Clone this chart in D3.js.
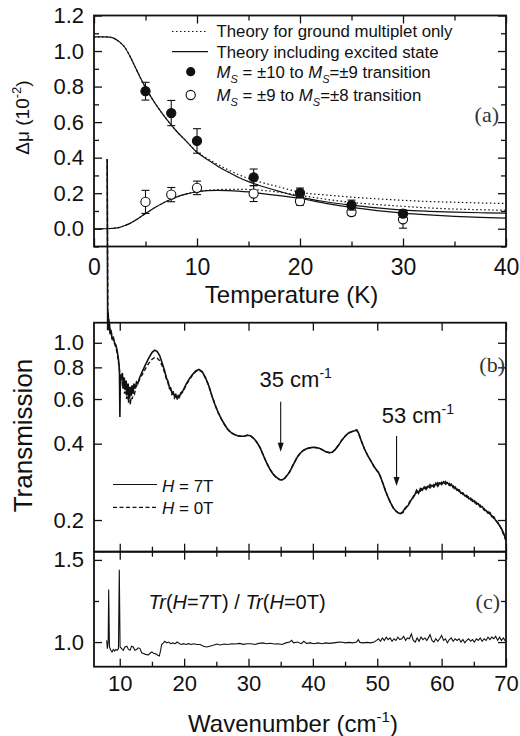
<!DOCTYPE html>
<html>
<head>
<meta charset="utf-8">
<script src="https://cdn.jsdelivr.net/npm/d3@7"></script>
<style>
  body { margin: 0; background: #fff; }
  svg { display: block; }
</style>
</head>
<body>
<svg id="chart" width="520" height="736"></svg>
<script>
// ---------- Panel (a): Δμ versus temperature ----------
const tempTicks = [0, 10, 20, 30, 40];
const dmuTicks = [0.0, 0.2, 0.4, 0.6, 0.8, 1.0, 1.2];
const tempK = [5, 7.5, 10, 15.5, 20, 25, 30];
const dmu10to9 = [0.774, 0.651, 0.494, 0.289, 0.201, 0.133, 0.085];
const err10to9 = [0.05, 0.071, 0.069, 0.047, 0.028, 0.028, 0.02];
const dmu9to8 = [0.151, 0.192, 0.23, 0.198, 0.155, 0.094, 0.053];
const err9to8 = [0.065, 0.04, 0.038, 0.045, 0.023, 0.02, 0.05];

// theory including the excited state (solid)
const theoryExcited10to9 = [[0,1.08],[1,1.08],[1.5,1.078],[2,1.07],[2.5,1.05],[3,1.02],[3.5,0.97],[4,0.91],[4.5,0.85],[5,0.795],[5.5,0.745],[6,0.70],[7,0.62],[8,0.55],[9,0.49],[10,0.43],[11,0.39],[12,0.352],[13,0.32],[14,0.29],[15,0.265],[16,0.245],[18,0.21],[20,0.178],[22.5,0.152],[25,0.133],[27.5,0.117],[30,0.105],[32.5,0.098],[35,0.093],[37.5,0.09],[40,0.088]];
const theoryExcited9to8 = [[0,0],[1,0],[1.5,0.001],[2,0.003],[2.5,0.008],[3,0.018],[3.5,0.03],[4,0.047],[4.5,0.066],[5,0.085],[5.5,0.104],[6,0.122],[6.5,0.138],[7,0.153],[7.5,0.166],[8,0.178],[9,0.196],[10,0.208],[11,0.214],[12,0.216],[13,0.215],[14,0.212],[15,0.207],[16,0.2],[18,0.186],[20,0.17],[22.5,0.143],[25,0.12],[27.5,0.102],[30,0.088],[32.5,0.078],[35,0.07],[37.5,0.064],[40,0.06]];
// theory for the ground multiplet only (dotted)
const theoryGround10to9 = [[0,1.08],[1,1.08],[1.5,1.078],[2,1.07],[2.5,1.05],[3,1.02],[3.5,0.97],[4,0.91],[4.5,0.85],[5,0.795],[5.5,0.745],[6,0.70],[7,0.62],[8,0.55],[9,0.49],[10,0.432],[11,0.395],[12,0.362],[13,0.332],[14,0.305],[15,0.283],[16,0.265],[18,0.235],[20,0.205],[22.5,0.19],[25,0.178],[27.5,0.168],[30,0.16],[32.5,0.153],[35,0.149],[37.5,0.145],[40,0.142]];
const theoryGround9to8 = [[0,0],[1,0],[1.5,0.001],[2,0.003],[2.5,0.008],[3,0.018],[3.5,0.03],[4,0.047],[4.5,0.066],[5,0.085],[5.5,0.104],[6,0.122],[6.5,0.138],[7,0.153],[7.5,0.166],[8,0.178],[9,0.196],[10,0.208],[11,0.216],[12,0.22],[13,0.222],[14,0.222],[15,0.221],[16,0.218],[18,0.205],[20,0.188],[22.5,0.166],[25,0.148],[27.5,0.136],[30,0.126],[32.5,0.117],[35,0.111],[37.5,0.107],[40,0.104]];

// ---------- Panel (b): transmission spectra ----------
const transTicks = [0.2, 0.4, 0.6, 0.8, 1.0];
const waveTicks = [10, 20, 30, 40, 50, 60, 70];
const trans7T = [[8.05,5.3],[8.12,1.12],[8.2,1.32],[8.3,1.12],[8.4,1.2],[8.5,1.08],[8.65,1.12],[8.8,1.04],[9.0,1.05],[9.2,1.0],[9.4,0.98],[9.6,0.93],[9.8,0.86],[9.95,0.78],[10.02,0.51],[10.1,0.75],[10.25,0.72],[10.4,0.76],[10.55,0.68],[10.7,0.73],[10.85,0.65],[11.0,0.71],[11.15,0.62],[11.3,0.69],[11.45,0.6],[11.6,0.67],[11.75,0.62],[11.9,0.68],[12.05,0.63],[12.2,0.69],[12.4,0.66],[12.6,0.7],[12.8,0.69],[13.1,0.73],[13.5,0.77],[14.0,0.82],[14.5,0.87],[15.0,0.915],[15.4,0.935],[15.8,0.925],[16.2,0.89],[16.6,0.83],[17.0,0.77],[17.3,0.72],[17.5,0.705],[17.7,0.67],[17.9,0.665],[18.1,0.635],[18.3,0.64],[18.5,0.615],[18.7,0.625],[18.9,0.605],[19.1,0.62],[19.3,0.615],[19.5,0.635],[19.8,0.645],[20.3,0.685],[20.8,0.72],[21.3,0.75],[21.8,0.775],[22.3,0.785],[22.8,0.77],[23.3,0.73],[23.8,0.68],[24.3,0.62],[24.8,0.57],[25.3,0.53],[25.8,0.5],[26.3,0.475],[26.8,0.455],[27.3,0.442],[27.8,0.435],[28.3,0.43],[28.8,0.428],[29.3,0.428],[29.8,0.432],[30.3,0.43],[30.8,0.42],[31.3,0.405],[31.8,0.386],[32.3,0.36],[32.8,0.337],[33.3,0.318],[33.8,0.304],[34.3,0.295],[34.8,0.289],[35.2,0.288],[35.6,0.292],[36.0,0.3],[36.4,0.31],[36.8,0.325],[37.2,0.34],[37.6,0.355],[38.0,0.366],[38.5,0.376],[39.0,0.382],[39.5,0.385],[40.0,0.387],[40.5,0.386],[41.0,0.384],[41.5,0.378],[42.0,0.372],[42.5,0.369],[43.0,0.37],[43.5,0.38],[44.0,0.395],[44.5,0.413],[45.0,0.428],[45.5,0.44],[46.0,0.446],[46.5,0.45],[46.8,0.453],[47.1,0.44],[47.5,0.412],[48.0,0.382],[48.5,0.36],[49.0,0.342],[49.5,0.325],[50.0,0.312],[50.2,0.308],[50.5,0.296],[50.9,0.278],[51.3,0.26],[51.7,0.245],[52.1,0.233],[52.5,0.223],[52.9,0.217],[53.3,0.213],[53.6,0.212],[54.0,0.216],[54.4,0.224],[54.8,0.228],[55.1,0.236],[55.5,0.245],[55.8,0.25],[56.1,0.262],[56.4,0.255],[56.7,0.266],[57.0,0.262],[57.3,0.27],[57.6,0.264],[57.9,0.272],[58.2,0.268],[58.5,0.274],[58.8,0.27],[59.1,0.279],[59.4,0.272],[59.7,0.28],[60.0,0.276],[60.3,0.283],[60.6,0.277],[60.9,0.281],[61.2,0.274],[61.5,0.277],[61.8,0.268],[62.1,0.27],[62.4,0.262],[62.7,0.263],[63.0,0.255],[63.3,0.256],[63.6,0.249],[63.9,0.25],[64.2,0.243],[64.5,0.244],[64.8,0.237],[65.1,0.238],[65.4,0.231],[65.7,0.232],[66.0,0.225],[66.3,0.226],[66.6,0.219],[66.9,0.218],[67.2,0.213],[67.5,0.214],[67.8,0.206],[68.1,0.206],[68.4,0.199],[68.7,0.196],[69.0,0.19],[69.3,0.185],[69.6,0.178],[69.9,0.17],[70.0,0.166]];
const trans0TLow = [[8.05,5.3],[8.15,1.2],[8.3,1.25],[8.45,1.1],[8.6,1.14],[8.8,1.05],[9.0,1.02],[9.2,0.99],[9.4,0.96],[9.6,0.91],[9.8,0.84],[10.0,0.76],[10.15,0.7],[10.3,0.74],[10.45,0.66],[10.6,0.71],[10.75,0.63],[10.9,0.69],[11.05,0.6],[11.2,0.66],[11.35,0.58],[11.5,0.64],[11.65,0.57],[11.8,0.63],[11.95,0.6],[12.1,0.65],[12.3,0.63],[12.5,0.67],[12.8,0.69],[13.1,0.72],[13.5,0.75],[14.0,0.79],[14.5,0.83],[15.0,0.86],[15.4,0.875],[15.8,0.87],[16.2,0.85],[16.6,0.81],[17.0,0.76],[17.3,0.71],[17.5,0.695],[17.7,0.66],[17.9,0.655],[18.1,0.625],[18.3,0.63],[18.5,0.605],[18.7,0.615],[18.9,0.598],[19.1,0.61],[19.3,0.608],[19.5,0.628],[19.8,0.64],[20.3,0.68],[20.8,0.715],[21.3,0.745],[21.8,0.77],[22.3,0.78],[22.8,0.767],[23.3,0.727]];
const trans0THigh = [[54.0,0.214],[54.4,0.222],[54.8,0.23],[55.2,0.24],[55.5,0.243],[55.8,0.255],[56.1,0.256],[56.4,0.262],[56.7,0.26],[57.0,0.268],[57.3,0.265],[57.6,0.27],[57.9,0.267],[58.2,0.276],[58.5,0.27],[58.8,0.276],[59.1,0.272],[59.4,0.281],[59.7,0.276],[60.0,0.282],[60.3,0.277],[60.6,0.284],[60.9,0.276],[61.2,0.279],[61.5,0.271],[61.8,0.273],[62.1,0.265],[62.4,0.267],[62.7,0.259],[63.0,0.26],[63.3,0.252],[63.6,0.253],[63.9,0.246],[64.2,0.247],[64.5,0.24],[64.8,0.241],[65.1,0.234],[65.4,0.235],[65.7,0.228],[66.0,0.229],[66.3,0.222],[66.6,0.222],[66.9,0.215],[67.2,0.216],[67.5,0.21],[67.8,0.209],[68.1,0.203],[68.4,0.201],[68.7,0.194],[69.0,0.192],[69.3,0.183],[69.6,0.176],[69.9,0.168],[70.0,0.165]];
// between 23.8 and 53.6 cm-1 the two spectra coincide
const trans0T = trans0TLow.concat(trans7T.filter(d => d[0] > 23.5 && d[0] < 53.9), trans0THigh);
const arrowMarks = [35, 53];
const arrowLabels = ["35", "53"];

// ---------- Panel (c): ratio of the spectra ----------
const ratioTicks = [1.0, 1.5];
const ratio = [[7.97,1.01],[8.07,0.96],[8.2,1.0],[8.28,1.32],[8.4,0.97],[8.6,0.95],[8.8,0.94],[9.0,0.955],[9.2,0.945],[9.4,0.955],[9.6,0.95],[9.8,0.96],[9.93,1.44],[10.05,0.97],[10.3,0.96],[10.55,0.95],[10.8,0.97],[11.1,0.975],[11.35,0.955],[11.6,0.95],[11.85,0.975],[12.1,0.97],[12.35,0.95],[12.6,0.955],[12.9,0.965],[13.15,0.96],[13.4,0.935],[13.7,0.93],[14.0,0.925],[14.45,0.922],[14.8,0.935],[15.0,0.94],[15.3,0.93],[15.6,0.928],[15.9,0.92],[16.15,0.915],[16.35,0.95],[16.5,0.985],[16.8,0.995],[17.0,1.005],[17.3,0.995],[17.6,1.0],[17.9,0.99],[18.2,0.995],[18.6,0.99],[18.9,1.0],[19.3,0.99],[19.6,0.985],[19.9,0.99],[20.3,0.985],[20.7,0.99],[21.1,0.985],[21.5,0.99],[22.0,0.985],[22.5,0.985],[23.0,0.975],[23.5,0.97],[24.0,0.975],[24.5,0.98],[25.1,0.988],[25.6,0.982],[26.2,0.988],[26.8,0.985],[27.4,0.99],[28.0,0.988],[28.6,0.992],[29.2,0.986],[29.8,0.99],[30.4,0.99],[31.0,0.985],[31.6,0.992],[32.2,0.995],[32.8,0.99],[33.4,0.993],[34.0,0.988],[34.6,0.99],[35.2,0.985],[35.8,0.995],[36.4,1.0],[36.7,1.01],[37.0,0.995],[37.6,1.0],[38.2,0.99],[38.6,1.005],[39.0,0.992],[39.6,0.995],[40.2,0.99],[40.8,0.995],[41.4,0.99],[42.0,0.995],[42.6,0.992],[43.2,0.995],[43.8,0.998],[44.4,1.0],[45.0,0.995],[45.6,0.998],[46.2,0.995],[46.8,1.0],[47.05,1.015],[47.3,0.998],[47.8,0.995],[48.4,0.998],[49.0,0.995],[49.5,1.0],[49.9,1.01],[50.2,1.02],[50.5,1.005],[50.8,1.025],[51.1,1.01],[51.4,1.03],[51.7,1.015],[52.0,1.025],[52.3,1.005],[52.6,1.02],[52.9,1.01],[53.2,1.03],[53.5,1.015],[53.8,1.02],[54.1,1.035],[54.4,1.01],[54.7,1.025],[55.0,1.02],[55.3,1.05],[55.6,1.01],[55.9,1.0],[56.2,1.025],[56.5,1.005],[56.8,1.03],[57.1,1.015],[57.4,1.025],[57.7,1.01],[58.0,1.03],[58.2,1.045],[58.5,1.01],[58.8,1.0],[59.1,1.02],[59.4,1.005],[59.7,1.02],[60.0,1.04],[60.3,1.01],[60.6,1.02],[60.9,0.995],[61.2,1.015],[61.5,1.025],[61.8,1.005],[62.1,1.02],[62.4,1.01],[62.7,1.02],[63.0,1.0],[63.3,1.015],[63.6,0.995],[63.9,1.01],[64.2,1.02],[64.5,1.005],[64.8,1.015],[65.1,1.0],[65.4,1.02],[65.7,1.01],[66.0,1.025],[66.3,1.005],[66.6,1.02],[66.9,1.01],[67.2,1.03],[67.5,1.015],[67.8,1.03],[68.1,1.02],[68.4,1.035],[68.7,1.01],[69.0,1.03],[69.3,1.01],[69.6,1.025],[69.9,1.005]];

// ---------- drawing ----------
const SANS = "'Liberation Sans', Arial, Helvetica, sans-serif";
const SERIF = "'Liberation Serif', 'Times New Roman', serif";
const INK = "#111";
const svg = d3.select("#chart");

const L = 94, R = 506;
const xA = d3.scaleLinear().domain([0, 40]).range([L, R]);
const yA = d3.scaleLinear().domain([-0.1, 1.2]).range([246.5, 15.5]);
const xB = d3.scaleLinear().domain([6, 70]).range([L, R]);
const yB = d3.scaleLog().domain([0.15, 1.2]).range([551.7, 322.7]);
const yC = d3.scaleLinear().domain([0.85, 1.55]).range([666.7, 551.7]);

function axis(gen, tx, ty, values, size, fmt, pad, fs) {
  const g = svg.append("g").attr("transform", `translate(${tx},${ty})`)
    .call(gen.tickValues(values).tickSizeInner(size).tickSizeOuter(0)
      .tickPadding(pad).tickFormat(fmt));
  g.attr("font-family", SANS).attr("font-size", fs || 22);
  g.select(".domain").remove();
  g.selectAll("line").attr("stroke", INK).attr("stroke-width", 1.3);
  g.selectAll("text").attr("fill", INK);
  return g;
}
const none = () => "";
const f1 = d3.format(".1f");
const range = (a, b, s) => d3.range(a, b + 1e-9, s);

// panel (a) axes
axis(d3.axisLeft(yA), L, 0, dmuTicks, -8, f1, 10);
axis(d3.axisLeft(yA), L, 0, range(-0.1, 1.1, 0.2), -5, none, 0);
axis(d3.axisRight(yA), R, 0, dmuTicks, -8, none, 0);
axis(d3.axisRight(yA), R, 0, range(-0.1, 1.1, 0.2), -5, none, 0);
axis(d3.axisBottom(xA), 0, yA.range()[0], tempTicks, -8, d3.format("d"), 12, 23);
axis(d3.axisBottom(xA), 0, yA.range()[0], [5, 15, 25, 35], -5, none, 0);
axis(d3.axisTop(xA), 0, yA.range()[1], tempTicks, -8, none, 0);
axis(d3.axisTop(xA), 0, yA.range()[1], [5, 15, 25, 35], -5, none, 0);

// panel (b) axes
axis(d3.axisLeft(yB), L, 0, transTicks, -8, f1, 10);
axis(d3.axisRight(yB), R, 0, transTicks, -8, none, 0);
axis(d3.axisTop(xB), 0, yB.range()[1], waveTicks, -8, none, 0);
axis(d3.axisBottom(xB), 0, yB.range()[0], waveTicks, -8, none, 0);
axis(d3.axisBottom(xB), 0, yB.range()[0], range(15, 65, 10), -5, none, 0);

// panel (c) axes
axis(d3.axisLeft(yC), L, 0, ratioTicks, -8, f1, 10);
axis(d3.axisLeft(yC), L, 0, [1.25], -5, none, 0);
axis(d3.axisRight(yC), R, 0, ratioTicks, -8, none, 0);
axis(d3.axisRight(yC), R, 0, [1.25], -5, none, 0);
axis(d3.axisTop(xB), 0, yC.range()[1], waveTicks, -8, none, 0);
axis(d3.axisTop(xB), 0, yC.range()[1], range(15, 65, 10), -5, none, 0);
axis(d3.axisBottom(xB), 0, yC.range()[0], waveTicks, -8, d3.format("d"), 9, 22);
axis(d3.axisBottom(xB), 0, yC.range()[0], range(15, 65, 10), -5, none, 0);

// frames
[[yA.range()[1], yA.range()[0]], [yB.range()[1], yB.range()[0]], [yC.range()[1], yC.range()[0]]]
  .forEach(([t, b]) => svg.append("rect").attr("x", L).attr("y", t)
    .attr("width", R - L).attr("height", b - t)
    .attr("fill", "none").attr("stroke", INK).attr("stroke-width", 1.8));

// panel (a) theory curves
const lineA = d3.line().x(d => xA(d[0])).y(d => yA(d[1])).curve(d3.curveMonotoneX);
[theoryGround10to9, theoryGround9to8].forEach(s =>
  svg.append("path").attr("d", lineA(s)).attr("fill", "none").attr("stroke", INK)
    .attr("stroke-width", 1.2).attr("stroke-dasharray", "1.5,2.5"));
[theoryExcited10to9, theoryExcited9to8].forEach(s =>
  svg.append("path").attr("d", lineA(s)).attr("fill", "none").attr("stroke", INK)
    .attr("stroke-width", 1.2));

// panel (a) data points with error bars
function points(vals, errs, filled) {
  const g = svg.append("g");
  tempK.forEach((t, i) => {
    const x = xA(t), y0 = yA(vals[i] - errs[i]), y1 = yA(vals[i] + errs[i]);
    g.append("line").attr("x1", x).attr("x2", x).attr("y1", y0).attr("y2", y1)
      .attr("stroke", INK).attr("stroke-width", 1.1);
    [y0, y1].forEach(y => g.append("line").attr("x1", x - 4).attr("x2", x + 4)
      .attr("y1", y).attr("y2", y).attr("stroke", INK).attr("stroke-width", 1.1));
  });
  tempK.forEach((t, i) => {
    g.append("circle").attr("cx", xA(t)).attr("cy", yA(vals[i])).attr("r", 4.6)
      .attr("fill", filled ? INK : "#fff").attr("stroke", INK).attr("stroke-width", 1.1);
  });
}
points(dmu9to8, err9to8, false);
points(dmu10to9, err10to9, true);

// panel (a) legend
function legendText(x, y, parts, fs) {
  const t = svg.append("text").attr("x", x).attr("y", y).attr("font-family", SANS)
    .attr("font-size", fs).attr("fill", INK);
  parts.forEach(p => {
    const s = t.append("tspan").text(p.t);
    if (p.i) s.attr("font-style", "italic");
    if (p.dy) s.attr("dy", p.dy);
    if (p.fs) s.attr("font-size", p.fs);
  });
  return t;
}
svg.append("line").attr("x1", 172).attr("x2", 208).attr("y1", 31.5).attr("y2", 31.5)
  .attr("stroke", INK).attr("stroke-width", 1.2).attr("stroke-dasharray", "1.5,2.5");
legendText(216.5, 37.3, [{t: "Theory for ground multiplet only"}], 16.8);
svg.append("line").attr("x1", 172).attr("x2", 208).attr("y1", 51.7).attr("y2", 51.7)
  .attr("stroke", INK).attr("stroke-width", 1.2);
legendText(216.5, 57.5, [{t: "Theory including excited state"}], 16.8);
svg.append("circle").attr("cx", 190.7).attr("cy", 71.7).attr("r", 4.6).attr("fill", INK);
legendText(216.5, 78, [{t: "M", i: 1}, {t: "S", i: 1, dy: 5, fs: 11}, {t: " = ±10 to ", dy: -5},
  {t: "M", i: 1}, {t: "S", i: 1, dy: 5, fs: 11}, {t: "=±9 transition", dy: -5}], 16.8);
svg.append("circle").attr("cx", 190.7).attr("cy", 95).attr("r", 4.6).attr("fill", "#fff")
  .attr("stroke", INK).attr("stroke-width", 1.1);
legendText(216.5, 100.5, [{t: "M", i: 1}, {t: "S", i: 1, dy: 5, fs: 11}, {t: " = ±9 to ", dy: -5},
  {t: "M", i: 1}, {t: "S", i: 1, dy: 5, fs: 11}, {t: "=±8 transition", dy: -5}], 16.8);

// panel (b) spectra (the low-wavenumber spike runs above the frame)
const lineB = d3.line().x(d => xB(d[0])).y(d => yB(d[1]));
svg.append("path").attr("d", lineB(trans0T)).attr("fill", "none").attr("stroke", INK)
  .attr("stroke-width", 1.4).attr("stroke-dasharray", "4,2.5");
svg.append("path").attr("d", lineB(trans7T)).attr("fill", "none").attr("stroke", INK)
  .attr("stroke-width", 1.6);

// arrows marking the absorption minima
const arrowTop = [401.7, 436], arrowBottom = [451.7, 486], labelBase = [386.7, 423.3], labelX = [259.5, 381.7];
arrowMarks.forEach((w, i) => {
  const x = xB(w);
  svg.append("line").attr("x1", x).attr("x2", x).attr("y1", arrowTop[i]).attr("y2", arrowBottom[i] - 6)
    .attr("stroke", INK).attr("stroke-width", 1.1);
  svg.append("path").attr("d", `M${x - 3},${arrowBottom[i] - 9} L${x + 3},${arrowBottom[i] - 9} L${x},${arrowBottom[i]} Z`)
    .attr("fill", INK);
  legendText(labelX[i], labelBase[i], [{t: arrowLabels[i] + " cm"}, {t: "-1", dy: -9, fs: 14}], 22);
});

// panel (b) legend
svg.append("line").attr("x1", 113).attr("x2", 157).attr("y1", 484.5).attr("y2", 484.5)
  .attr("stroke", INK).attr("stroke-width", 1.2);
legendText(162, 491.5, [{t: "H", i: 1}, {t: " = 7T"}], 17);
svg.append("line").attr("x1", 113).attr("x2", 157).attr("y1", 507.3).attr("y2", 507.3)
  .attr("stroke", INK).attr("stroke-width", 1.2).attr("stroke-dasharray", "4,2.5");
legendText(162, 513.5, [{t: "H", i: 1}, {t: " = 0T"}], 17);

// panel (c) ratio
const lineC = d3.line().x(d => xB(d[0])).y(d => yC(d[1]));
svg.append("path").attr("d", lineC(ratio)).attr("fill", "none").attr("stroke", INK)
  .attr("stroke-width", 1.1);
legendText(148.5, 608.5, [{t: "Tr", i: 1}, {t: "("}, {t: "H", i: 1}, {t: "=7T) / "},
  {t: "Tr", i: 1}, {t: "("}, {t: "H", i: 1}, {t: "=0T)"}], 20);

// panel tags
[["(a)", 499, 122], ["(b)", 505, 372], ["(c)", 500, 609]].forEach(([s, x, y]) =>
  svg.append("text").attr("x", x).attr("y", y).attr("text-anchor", "end")
    .attr("font-family", SERIF).attr("font-size", 22).attr("fill", "#333").text(s));

// axis titles
legendText(291.5, 302.5, [{t: "Temperature (K)"}], 24).attr("text-anchor", "middle");
legendText(293, 731.5, [{t: "Wavenumber (cm"}, {t: "-1", dy: -10, fs: 15}, {t: ")", dy: 10}], 24)
  .attr("text-anchor", "middle");
svg.append("text").attr("transform", "translate(29,117.5) rotate(-90)")
  .attr("text-anchor", "middle").attr("font-family", SANS).attr("font-size", 19).attr("fill", INK)
  .call(t => {
    t.append("tspan").text("Δμ (10");
    t.append("tspan").text("-2").attr("dy", -8).attr("font-size", 13);
    t.append("tspan").text(")").attr("dy", 8);
  });
svg.append("text").attr("transform", "translate(31.5,435.5) rotate(-90)")
  .attr("text-anchor", "middle").attr("font-family", SANS).attr("font-size", 26).attr("fill", INK)
  .text("Transmission");
</script>
</body>
</html>
